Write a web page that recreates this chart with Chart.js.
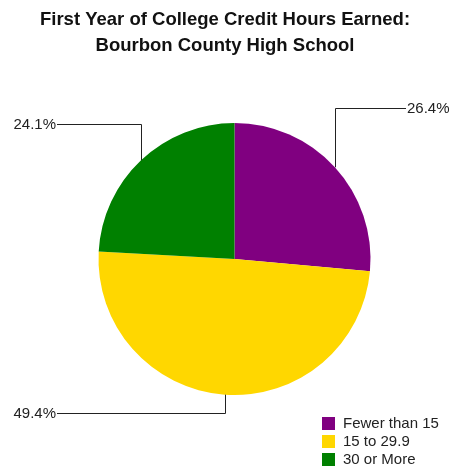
<!DOCTYPE html>
<html>
<head>
<meta charset="utf-8">
<script src="https://cdn.jsdelivr.net/npm/chart.js@4/dist/chart.umd.min.js"></script>
<style>
	html, body { margin: 0; padding: 0; background: #fff; }
	#wrap { width: 469px; height: 469px; }
</style>
</head>
<body>
<div id="wrap"><canvas id="cnv_pie"></canvas></div>
<script>
// Chart data
const categories = ['Fewer than 15', '15 to 29.9', '30 or More'];
const shares = [26.4, 49.4, 24.1];
const sliceColors = ['#800080', '#FFD700', '#008000'];
const titleLines = ['First Year of College Credit Hours Earned:', 'Bourbon County High School'];

const FONT = "'Liberation Sans', Arial, sans-serif";

// where each leader line bends (relative to chart area) and which side the label goes
const leaderStyle = [
	{ side: 'right', bendFrom: 'top', bendOffset: -15 },
	{ side: 'left', bendFrom: 'bottom', bendOffset: 18 },
	{ side: 'left', bendFrom: 'top', bendOffset: 1 }
];

// title, drawn a bit left of centre like the original
const titleBlock = {
	id: 'titleBlock',
	afterDraw(chart) {
		const { ctx } = chart;
		ctx.save();
		ctx.font = `bold 18.5px ${FONT}`;
		ctx.fillStyle = '#111';
		ctx.textAlign = 'center';
		ctx.textBaseline = 'alphabetic';
		titleLines.forEach((line, i) => ctx.fillText(line, 225, 25 + i * 25.5));
		ctx.restore();
	}
};

// leader lines + percent labels
const leaderLabels = {
	id: 'leaderLabels',
	afterDatasetsDraw(chart) {
		const { ctx, chartArea } = chart;
		const meta = chart.getDatasetMeta(0);
		ctx.save();
		ctx.strokeStyle = '#222';
		ctx.lineWidth = 1;
		ctx.fillStyle = '#222';
		ctx.font = `15px ${FONT}`;
		ctx.textBaseline = 'middle';
		meta.data.forEach((arc, i) => {
			const { x, y, startAngle, endAngle, outerRadius } = arc.getProps(['x', 'y', 'startAngle', 'endAngle', 'outerRadius'], true);
			const mid = (startAngle + endAngle) / 2;
			const px = Math.round(x + Math.cos(mid) * outerRadius) + 0.5;
			const py = y + Math.sin(mid) * outerRadius;
			const st = leaderStyle[i];
			const bendY = Math.round((st.bendFrom === 'top' ? chartArea.top : chartArea.bottom) + st.bendOffset) + 0.5;
			const endX = st.side === 'right' ? chart.width - 63 : 57;
			ctx.beginPath();
			ctx.moveTo(px, py);
			ctx.lineTo(px, bendY);
			ctx.lineTo(endX, bendY);
			ctx.stroke();
			const txt = shares[i].toFixed(1) + '%';
			if (st.side === 'right') {
				ctx.textAlign = 'left';
				ctx.fillText(txt, endX + 1, bendY);
			} else {
				ctx.textAlign = 'right';
				ctx.fillText(txt, endX - 1, bendY);
			}
		});
		ctx.restore();
	}
};

// legend box at the bottom right
const cornerLegend = {
	id: 'cornerLegend',
	afterDraw(chart) {
		const { ctx } = chart;
		const left = 322, top = 417, rowH = 18;
		ctx.save();
		ctx.font = `15px ${FONT}`;
		ctx.textBaseline = 'middle';
		ctx.textAlign = 'left';
		chart.data.labels.forEach((lbl, i) => {
			ctx.fillStyle = chart.data.datasets[0].backgroundColor[i];
			ctx.fillRect(left, top + i * rowH, 13, 13);
			ctx.fillStyle = '#222';
			ctx.fillText(lbl, left + 21, top + i * rowH + 7);
		});
		ctx.restore();
	}
};

const ctx = document.getElementById('cnv_pie').getContext('2d');
const pieChart = new Chart(ctx, {
	type: 'pie',
	plugins: [titleBlock, leaderLabels, cornerLegend],
	data: {
		labels: categories,
		datasets: [{
			data: shares,
			backgroundColor: sliceColors,
			borderWidth: 0
		}]
	},
	options: {
		responsive: true,
		maintainAspectRatio: false,
		animation: false,
		layout: { padding: { top: 123, bottom: 74, left: 0, right: 0 } },
		plugins: {
			legend: { display: false },
			tooltip: { enabled: false },
			title: { display: false }
		}
	}
});
</script>
</body>
</html>
